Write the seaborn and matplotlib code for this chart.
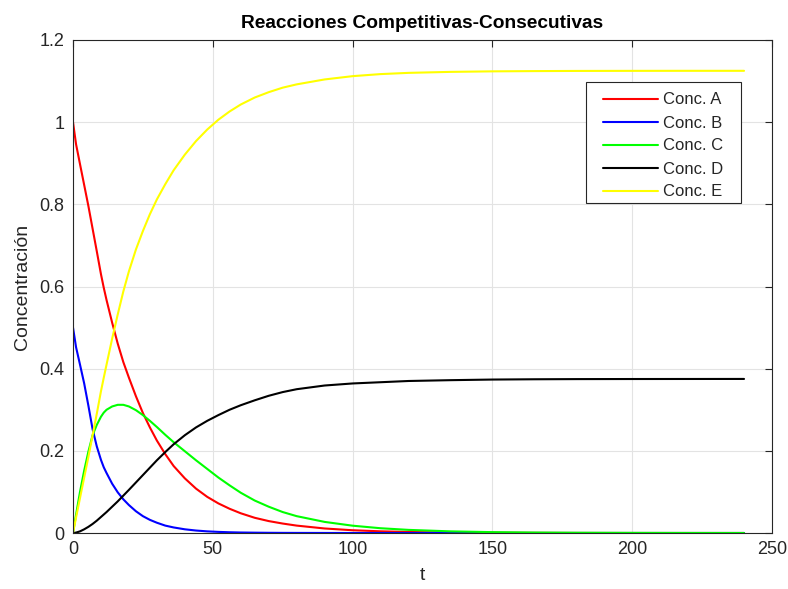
import matplotlib
matplotlib.use("Agg")
import matplotlib.pyplot as plt
import seaborn as sns
import pandas as pd
from matplotlib.ticker import FuncFormatter
from matplotlib.patches import Rectangle

t = [0, 1.1, 2.5, 4, 5.5, 7, 8.5, 10, 11, 12, 14, 16, 18, 20, 22.5, 25, 27.5, 30, 33, 36,
     40, 44, 48, 52, 56, 60, 65, 70, 75, 80, 90, 100, 110, 120, 135, 150, 165, 180, 200, 220, 240]
conc_A = [1.000, 0.946, 0.898, 0.847, 0.796, 0.741, 0.686, 0.630, 0.597, 0.567, 0.512, 0.461, 0.416,
          0.378, 0.333, 0.292, 0.257, 0.225, 0.192, 0.163, 0.133, 0.108, 0.088, 0.072, 0.059, 0.048,
          0.037, 0.029, 0.023, 0.018, 0.011, 0.0067, 0.0041, 0.0025, 0.0012, 0.0006, 0.0003, 0.0001,
          0.0, 0.0, 0.0]
conc_B = [0.500, 0.452, 0.410, 0.364, 0.310, 0.253, 0.211, 0.178, 0.160, 0.146, 0.120, 0.099, 0.082,
          0.068, 0.053, 0.041, 0.032, 0.025, 0.018, 0.0135, 0.009, 0.006, 0.004, 0.0027, 0.0018,
          0.0012, 0.0008, 0.0005, 0.0003, 0.0002, 0.0001, 0, 0, 0, 0, 0, 0, 0, 0, 0, 0]
conc_C = [0, 0.045, 0.100, 0.152, 0.198, 0.238, 0.263, 0.283, 0.293, 0.300, 0.308, 0.312, 0.312,
          0.308, 0.299, 0.287, 0.273, 0.258, 0.239, 0.221, 0.199, 0.177, 0.156, 0.135, 0.116, 0.098,
          0.079, 0.064, 0.051, 0.041, 0.027, 0.0178, 0.0116, 0.0076, 0.0040, 0.0021, 0.0011, 0.0006,
          0.0003, 0.0001, 0.0]
conc_D = [0, 0.001, 0.004, 0.009, 0.015, 0.022, 0.030, 0.039, 0.045, 0.051, 0.064, 0.077, 0.091,
          0.105, 0.123, 0.141, 0.159, 0.177, 0.197, 0.216, 0.238, 0.257, 0.273, 0.287, 0.300, 0.311,
          0.323, 0.334, 0.343, 0.350, 0.359, 0.364, 0.367, 0.370, 0.372, 0.3735, 0.3742, 0.3746,
          0.3748, 0.3749, 0.375]
conc_E = [0, 0.038, 0.085, 0.135, 0.185, 0.238, 0.290, 0.345, 0.378, 0.410, 0.473, 0.532, 0.588,
          0.637, 0.690, 0.735, 0.776, 0.812, 0.849, 0.883, 0.921, 0.954, 0.982, 1.006, 1.026, 1.043,
          1.060, 1.073, 1.084, 1.092, 1.104, 1.112, 1.117, 1.120, 1.1224, 1.1237, 1.1243, 1.1247,
          1.1249, 1.125, 1.125]

labels = ["Conc. A", "Conc. B", "Conc. C", "Conc. D", "Conc. E"]
series = [conc_A, conc_B, conc_C, conc_D, conc_E]
colors = ["#ff0000", "#0000ff", "#00ff00", "#000000", "#ffff00"]
xticks = [0, 50, 100, 150, 200, 250]
yticks = [0, 0.2, 0.4, 0.6, 0.8, 1.0, 1.2]

sns.set_theme(style="white")
plt.rcParams["font.family"] = ["Liberation Sans", "DejaVu Sans"]

W, H = 788, 589
fig = plt.figure(figsize=(W / 100, H / 100), dpi=100)
ax = fig.add_axes([73 / W, 1 - 533 / H, (772 - 73) / W, (533 - 40) / H])

for vals, lab, col in zip(series, labels, colors):
    df = pd.DataFrame({"t": t, "c": vals})
    sns.lineplot(data=df, x="t", y="c", color=col, label=lab, linewidth=1.5, ax=ax)

ax.set_xlim(0, 250)
ax.set_ylim(0, 1.2)
ax.set_xticks(xticks)
ax.set_yticks(yticks)
ax.yaxis.set_major_formatter(FuncFormatter(lambda v, p: f"{v:g}"))
ax.grid(True, color="#e3e3e3", linewidth=0.8)
ax.set_axisbelow(True)
for s in ax.spines.values():
    s.set_color("#262626")
    s.set_linewidth(0.8)
ax.tick_params(direction="in", length=5, width=0.8, color="#262626", top=True, right=True,
               labelsize=13, labelcolor="#262626", pad=6)
ax.set_xlabel("t", fontsize=14, color="#262626", labelpad=6)
ax.set_ylabel("Concentración", fontsize=14, color="#262626", labelpad=6)
ax.set_title("Reacciones Competitivas-Consecutivas", fontsize=13.8, fontweight="bold",
             color="black", pad=9)

# legend frame drawn as a box behind the legend entries
box = Rectangle((586 / W, 1 - 203 / H), (741 - 586) / W, (203 - 82) / H,
                transform=fig.transFigure, facecolor="white", edgecolor="#262626",
                linewidth=0.8, zorder=4.5)
ax.add_patch(box)
box.set_clip_on(False)

leg = ax.legend(loc="upper left", bbox_to_anchor=(602.7 / W, 1 - 92.5 / H),
                bbox_transform=fig.transFigure, fontsize=12, frameon=False,
                borderpad=0, handlelength=3.33, handletextpad=0.3, labelspacing=0.48,
                borderaxespad=0)
leg.set_zorder(6)

fig.savefig("out.png", dpi=100)
